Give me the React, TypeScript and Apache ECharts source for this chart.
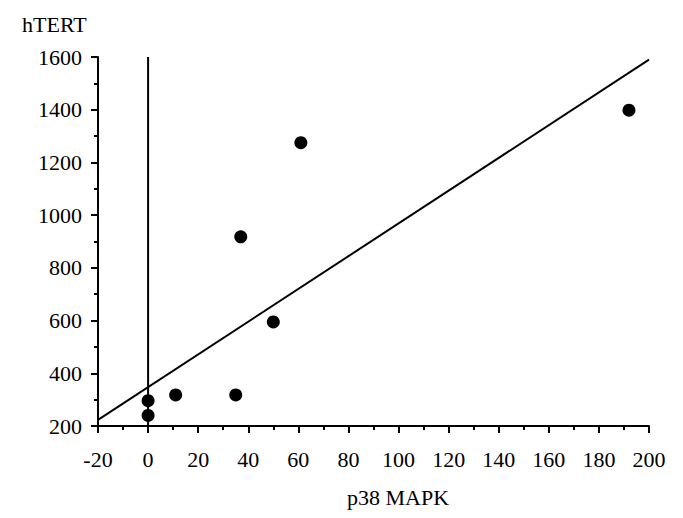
import React, { useEffect, useRef } from "react";
import * as echarts from "echarts";

const xValues = [0, 0, 11, 35, 50, 37, 61, 192];
const yValues = [240, 296, 318, 318, 595, 918, 1275, 1398];
const fitLineX = [-20, 200];
const fitLineY = [223, 1590];
const zeroLineY = [200, 1600];
const xAxisTitle = "p38 MAPK";
const yAxisTitle = "hTERT";

export default function App() {
  const ref = useRef<HTMLDivElement>(null);
  useEffect(() => {
    if (!ref.current) return;
    const chart = echarts.init(ref.current, null, { renderer: "svg" });
    const font = "Liberation Serif";
    const axisCommon = {
      axisLine: { show: true, onZero: false, lineStyle: { color: "#000", width: 2 } },
      axisTick: { show: true, inside: false, length: 7, lineStyle: { color: "#000", width: 2 } },
      minorTick: { show: true, splitNumber: 2, length: 4, lineStyle: { color: "#000", width: 2 } },
      splitLine: { show: false },
      axisLabel: {
        color: "#000",
        fontFamily: font,
        fontSize: 22,
        formatter: (v: number) => String(v),
      },
    };
    chart.setOption({
      animation: false,
      backgroundColor: "#fff",
      grid: { left: 98, right: 34, top: 57, bottom: 92 },
      xAxis: {
        type: "value",
        min: -20,
        max: 200,
        interval: 20,
        ...axisCommon,
        axisLabel: { ...axisCommon.axisLabel, margin: 22 },
      },
      yAxis: {
        type: "value",
        min: 200,
        max: 1600,
        interval: 200,
        ...axisCommon,
        axisLabel: { ...axisCommon.axisLabel, margin: 16 },
      },
      graphic: [
        {
          type: "text",
          left: 22,
          top: 13,
          style: { text: yAxisTitle, fontFamily: font, fontSize: 22, fill: "#000" },
        },
        {
          type: "text",
          x: 398,
          y: 497,
          style: {
            text: xAxisTitle,
            fontFamily: font,
            fontSize: 22,
            fill: "#000",
            align: "center",
            verticalAlign: "middle",
          },
        },
      ],
      series: [
        {
          type: "line",
          data: zeroLineY.map((y) => [0, y]),
          symbol: "none",
          lineStyle: { color: "#000", width: 2 },
          silent: true,
        },
        {
          type: "line",
          data: fitLineX.map((x, i) => [x, fitLineY[i]]),
          symbol: "none",
          lineStyle: { color: "#000", width: 2 },
          silent: true,
        },
        {
          type: "scatter",
          data: xValues.map((x, i) => [x, yValues[i]]),
          symbol: "circle",
          symbolSize: 13,
          itemStyle: { color: "#000", opacity: 1 },
        },
      ],
    });
    return () => chart.dispose();
  }, []);
  return <div ref={ref} style={{ width: 683, height: 518, margin: -8 }} />;
}
